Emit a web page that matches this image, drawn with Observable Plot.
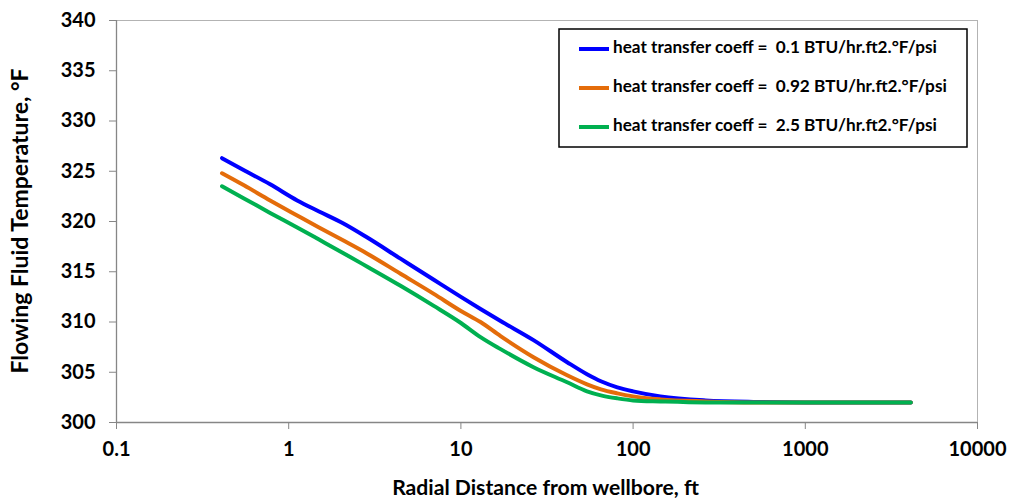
<!DOCTYPE html>
<html>
<head>
<meta charset="utf-8">
<script src="https://cdn.jsdelivr.net/npm/d3@7"></script>
<script src="https://cdn.jsdelivr.net/npm/@observablehq/plot@0.6"></script>
<style>
  html, body { margin: 0; padding: 0; background: #fff; }
  #chart { width: 1011px; height: 502px; }
  svg text { font-family: Lato, "Liberation Sans", sans-serif; font-weight: bold; }
</style>
</head>
<body>
<div id="chart"></div>
<script>
// ---- data ----
const radialDistance = [0.41, 0.55, 0.78, 1.12, 1.5, 2.08, 2.86, 4.46, 6.96, 10, 13, 17, 26.4, 41.4, 54, 65, 81, 100, 144, 263, 500, 1000, 2000, 4100];
const tempCoeff01  = [326.3, 325.1, 323.7, 322.1, 321.0, 319.8, 318.4, 316.3, 314.2, 312.5, 311.3, 310.1, 308.2, 306.0, 304.8, 304.1, 303.5, 303.1, 302.6, 302.2, 302.05, 302.0, 302.0, 302.0];
const tempCoeff092 = [324.8, 323.6, 322.1, 320.6, 319.4, 318.1, 316.8, 314.8, 312.8, 311.1, 310.0, 308.6, 306.5, 304.7, 303.8, 303.3, 302.9, 302.6, 302.3, 302.1, 302.0, 302.0, 302.0, 302.0];
const tempCoeff25  = [323.5, 322.3, 320.85, 319.4, 318.2, 316.85, 315.5, 313.6, 311.6, 309.9, 308.5, 307.3, 305.5, 304.0, 303.1, 302.7, 302.4, 302.2, 302.1, 302.0, 302.0, 302.0, 302.0, 302.0];
const seriesNames = [
  "heat transfer coeff =  0.1 BTU/hr.ft2.°F/psi",
  "heat transfer coeff =  0.92 BTU/hr.ft2.°F/psi",
  "heat transfer coeff =  2.5 BTU/hr.ft2.°F/psi"
];
const seriesColors = ["#0000FF", "#E46C0A", "#00B050"];
const xTicks = [0.1, 1, 10, 100, 1000, 10000];
const yTicks = [300, 305, 310, 315, 320, 325, 330, 335, 340];
const xTitle = "Radial Distance from wellbore, ft";
const yTitle = "Flowing Fluid Temperature, °F";

// ---- build table ----
const seriesValues = [tempCoeff01, tempCoeff092, tempCoeff25];
const rows = [];
seriesValues.forEach((vals, si) => {
  vals.forEach((v, i) => rows.push({series: seriesNames[si], x: radialDistance[i], y: v}));
});

const W = 1011, H = 502;
const mL = 116, mR = 34, mT = 20, mB = 80;
const axisColor = "#868686";
const tickFont = 20;

const plot = Plot.plot({
  width: W,
  height: H,
  marginLeft: mL,
  marginRight: mR,
  marginTop: mT,
  marginBottom: mB,
  style: {fontFamily: "Lato, 'Liberation Sans', sans-serif", fontWeight: "bold", fontSize: tickFont + "px", color: "#000", background: "#fff", overflow: "visible"},
  x: {type: "log", domain: [0.1, 10000]},
  y: {domain: [300, 340]},
  color: {domain: seriesNames, range: seriesColors},
  marks: [
    Plot.frame({stroke: "#b3b3b3", strokeWidth: 1}),
    Plot.ruleX([0.1], {stroke: axisColor, strokeWidth: 1.3}),
    Plot.ruleY([300], {stroke: axisColor, strokeWidth: 1.3}),
    Plot.axisY({ticks: yTicks, tickSize: 7, tickPadding: 14, tickFormat: d => String(d), label: null, stroke: axisColor, fontSize: tickFont, fontWeight: "bold", fill: "#000"}),
    Plot.axisX({ticks: xTicks, tickSize: 7, tickPadding: 12, tickFormat: d => String(d), label: null, stroke: axisColor, fontSize: tickFont, fontWeight: "bold", fill: "#000"}),
    Plot.line(rows, {x: "x", y: "y", z: "series", stroke: "series", strokeWidth: 4, curve: "monotone-x"})
  ]
});

document.getElementById("chart").appendChild(plot);

const svg = d3.select(plot);

// fit a text element to a target width by adjusting its font size
function fitWidth(sel, base, target) {
  sel.attr("font-size", base);
  const w = sel.node().getComputedTextLength();
  if (w > 0) sel.attr("font-size", base * target / w);
}

// axis titles
const xt = svg.append("text")
  .attr("x", (mL + (W - mR)) / 2 - 1)
  .attr("y", 490)
  .attr("text-anchor", "middle")
  .attr("dominant-baseline", "middle")
  .attr("fill", "#000")
  .text(xTitle);
fitWidth(xt, 20, 307);
const yt = svg.append("text")
  .attr("transform", `translate(22,${(mT + (H - mB)) / 2}) rotate(-90)`)
  .attr("text-anchor", "middle")
  .attr("dominant-baseline", "middle")
  .attr("fill", "#000")
  .text(yTitle);
fitWidth(yt, 20, 305);

// legend
const lg = svg.append("g");
lg.append("rect")
  .attr("x", 559).attr("y", 29).attr("width", 408).attr("height", 118)
  .attr("fill", "#fff").attr("stroke", "#000").attr("stroke-width", 1.5);
const rowY = [49, 88, 127];
seriesNames.forEach((name, i) => {
  lg.append("line")
    .attr("x1", 579).attr("x2", 609).attr("y1", rowY[i]).attr("y2", rowY[i])
    .attr("stroke", seriesColors[i]).attr("stroke-width", 4);
  const t = lg.append("text")
    .attr("x", 613).attr("y", rowY[i])
    .attr("text-anchor", "start")
    .attr("dominant-baseline", "middle")
    .attr("fill", "#000")
    .style("white-space", "pre")
    .text(name);
  fitWidth(t, 15, 324);
});
// use one common legend font size (the first row's fitted size)
const lgSize = +lg.select("text").attr("font-size");
lg.selectAll("text").attr("font-size", lgSize);
</script>
</body>
</html>
